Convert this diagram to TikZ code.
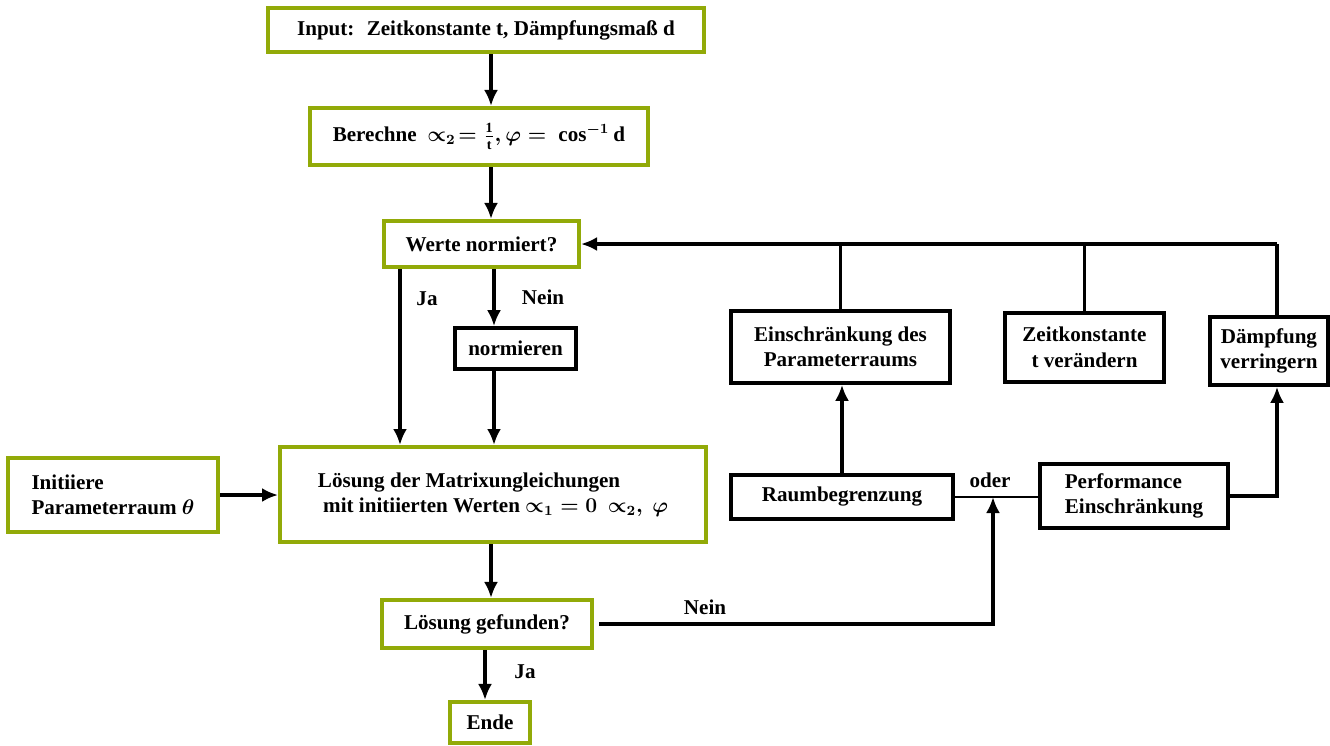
\documentclass[tikz,border=0pt]{standalone}
\usepackage{amsmath}
\usepackage{fontspec}
\setmainfont{Liberation Serif}
\usetikzlibrary{arrows.meta}
\definecolor{olivebox}{RGB}{146,170,8}
\newcommand{\pfac}{\mathord{\propto}}

\begin{document}
\begin{tikzpicture}[x=0.02cm, y=-0.02cm, >={Latex[length=3.2mm,width=2.8mm]},
    font=\fontsize{12}{14.5}\selectfont\bfseries\boldmath]
	\tikzset{
		greenbox/.style={draw=olivebox, line width=2.3pt, inner sep=2pt, align=center},
		blackbox/.style={draw=black, line width=2.1pt, inner sep=2pt, align=center},
		flow/.style={->, line width=2.1pt},
		link/.style={line width=2.1pt},
		lbl/.style={inner sep=1pt},
	}
	\useasboundingbox (0,0) rectangle (1330,745);

	% main column
	\node[greenbox, minimum width=8.72cm, minimum height=0.88cm] (input) at (486,30)
		{Input:~ Zeitkonstante t, Dämpfungsmaß d};
	\node[greenbox, minimum width=6.76cm, minimum height=1.14cm] (calc) at (479,136.5)
		{Berechne~ $\pfac_2\!= \frac{\text{1}}{\text{t}}, \varphi =~ \cos^{-1}\text{d}$};
	\node[greenbox, minimum width=3.9cm, minimum height=0.92cm] (check) at (481.5,244) {Werte normiert?};
	\node[blackbox, minimum width=2.42cm, minimum height=0.82cm] (norm) at (515.5,348.5) {normieren};
	\node[greenbox, minimum width=8.52cm, minimum height=1.9cm, align=left] (solve) at (493,494.5)
		{Lösung der Matrixungleichungen\\\ mit initiierten Werten $\pfac_1 = 0\ \ \pfac_2,\ \varphi$};
	\node[greenbox, minimum width=4.2cm, minimum height=1.48cm, align=left] (init) at (113,495)
		{Initiiere\\Parameterraum $\theta$};
	\node[greenbox, minimum width=4.2cm, minimum height=0.96cm] (found) at (487,624) {Lösung gefunden?};
	\node[greenbox, minimum width=1.6cm, minimum height=0.82cm] (stop) at (490,722.5) {Ende};

	% right part
	\node[blackbox, minimum width=4.38cm, minimum height=1.44cm] (restrict) at (840.5,347)
		{Einschränkung des\\Parameterraums};
	\node[blackbox, minimum width=3.18cm, minimum height=1.38cm] (tconst) at (1084.5,347.5)
		{Zeitkonstante\\t verändern};
	\node[blackbox, minimum width=2.36cm, minimum height=1.36cm] (damp) at (1269,351)
		{Dämpfung\\verringern};
	\node[blackbox, minimum width=4.44cm, minimum height=0.88cm] (bound) at (842,497) {Raumbegrenzung};
	\node[blackbox, minimum width=3.76cm, minimum height=1.28cm, align=left] (perf) at (1134,496)
		{Performance\\Einschränkung};

	\coordinate (mainx) at (491,0);
	\coordinate (normx) at (494,0);
	\coordinate (jax) at (400,0);
	\coordinate (endx) at (485,0);
	\coordinate (orpt) at (993,497);
	\coordinate (fb) at (1277,244);

	\draw[flow] (input.south -| mainx) -- (calc.north -| mainx);
	\draw[flow] (calc.south -| mainx) -- (check.north -| mainx);
	\draw[flow] (check.south -| normx) -- (norm.north -| normx);
	\draw[flow] (norm.south -| normx) -- (solve.north -| normx);
	\draw[flow] (check.south -| jax) -- (solve.north -| jax);
	\draw[flow] (init.east) -- (solve.west |- init.east);
	\draw[flow] (solve.south -| mainx) -- (found.north -| mainx);
	\draw[flow] (found.south -| endx) -- (stop.north -| endx);
	\draw[flow] ([xshift=0.1cm]found.east) -| (orpt);
	\draw[line width=1pt] (bound.east) -- (perf.west |- bound.east);
	\draw[flow] (bound.north) -- (restrict.south -| bound.north);
	\draw[flow] (perf.east) -| (damp.south -| fb);
	% back to the check
	\draw[link] (restrict.north) -- (restrict.north |- fb);
	\draw[link] (tconst.north) -- (tconst.north |- fb);
	\draw[link] (damp.north -| fb) -- (fb);
	\draw[flow] (fb) -- (check.east);

	\node[lbl] (ja1) at (427,299) {Ja};
	\node[lbl] (nein1) at (543,297) {Nein};
	\node[lbl] (nein2) at (705,607) {Nein};
	\node[lbl] (ja2) at (525,672) {Ja};
	\node[lbl] (oder) at (990,480) {oder};
\end{tikzpicture}
\end{document}
